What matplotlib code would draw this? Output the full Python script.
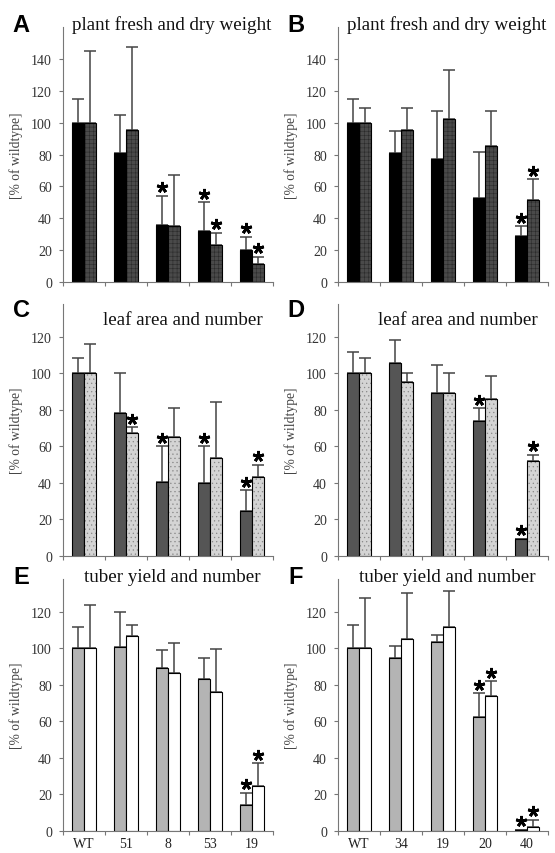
import numpy as np
import matplotlib
matplotlib.use('Agg')
import matplotlib.pyplot as plt

plt.rcParams['hatch.linewidth'] = 0.4

# Datos (% del wildtype)
grupos = np.arange(5)
etiquetas_E = ['WT', '51', '8', '53', '19']
etiquetas_F = ['WT', '34', '19', '20', '40']

# A: plant fresh and dry weight
A_1 = [100, 81, 35.5, 32, 20]
A_1_err = [115, 105, 54, 50, 28.5]
A_2 = [100, 95.5, 35, 23, 11.5]
A_2_err = [145, 147.5, 67, 31, 16]
A_1_sig = [0, 0, 1, 1, 1]
A_2_sig = [0, 0, 0, 1, 1]

# B: plant fresh and dry weight
B_1 = [100, 81, 77, 52.5, 29]
B_1_err = [115, 95, 107.5, 81.5, 35]
B_2 = [100, 95.5, 102, 85.5, 51.5]
B_2_err = [109, 109, 133, 107, 64.5]
B_1_sig = [0, 0, 0, 0, 1]
B_2_sig = [0, 0, 0, 0, 1]

# C: leaf area and number
C_1 = [100, 78.5, 40.5, 40, 24.5]
C_1_err = [108.5, 100.5, 60, 60, 36]
C_2 = [100, 67.5, 65, 53.5, 43]
C_2_err = [116, 70.5, 81, 84.5, 50]
C_1_sig = [0, 0, 1, 1, 1]
C_2_sig = [0, 1, 0, 0, 1]

# D: leaf area and number
D_1 = [100, 105.5, 89.5, 74, 9.5]
D_1_err = [112, 118.5, 104.5, 81, 9.5]
D_2 = [100, 95.5, 89.5, 86, 52]
D_2_err = [108.5, 100.5, 100, 98.5, 55.5]
D_1_sig = [0, 0, 0, 1, 1]
D_2_sig = [0, 0, 0, 0, 1]

# E: tuber yield and number
E_1 = [100, 101, 89, 83, 14]
E_1_err = [112, 120, 99, 95, 21]
E_2 = [100, 107, 86.5, 76, 24.5]
E_2_err = [124, 113, 103, 99.5, 37]
E_1_sig = [0, 0, 0, 0, 1]
E_2_sig = [0, 0, 0, 0, 1]

# F: tuber yield and number
F_1 = [100, 95, 103.5, 62.5, 0.5]
F_1_err = [113, 101.5, 107.5, 75.5, 0.5]
F_2 = [100, 105, 112, 74, 2]
F_2_err = [127.5, 130.5, 131.5, 82, 6]
F_1_sig = [0, 0, 0, 1, 1]
F_2_sig = [0, 0, 0, 1, 1]

ancho = 0.29
serif = 'Liberation Serif'

fig = plt.figure(figsize=(5.55, 8.54), dpi=100)

# posiciones de los paneles [izq, abajo, ancho, alto]
pos = {
    'A': [0.1135, 0.6686, 0.378, 0.2986],
    'B': [0.609, 0.6686, 0.378, 0.2986],
    'C': [0.1135, 0.3478, 0.378, 0.295],
    'D': [0.609, 0.3478, 0.378, 0.295],
    'E': [0.1135, 0.0258, 0.378, 0.295],
    'F': [0.609, 0.0258, 0.378, 0.295],
}

paneles = [
    ('A', A_1, A_1_err, A_2, A_2_err, A_1_sig, A_2_sig, 'plant fresh and dry weight',
     'black', '#4a4a4a', '#2a2a2a', '++++', 160, [0, 20, 40, 60, 80, 100, 120, 140], None, (0.52, 1.01)),
    ('B', B_1, B_1_err, B_2, B_2_err, B_1_sig, B_2_sig, 'plant fresh and dry weight',
     'black', '#4a4a4a', '#2a2a2a', '++++', 160, [0, 20, 40, 60, 80, 100, 120, 140], None, (0.52, 1.01)),
    ('C', C_1, C_1_err, C_2, C_2_err, C_1_sig, C_2_sig, 'leaf area and number',
     '#555555', '#d4d4d4', '#888888', '....', 138, [0, 20, 40, 60, 80, 100, 120], None, (0.57, 0.94)),
    ('D', D_1, D_1_err, D_2, D_2_err, D_1_sig, D_2_sig, 'leaf area and number',
     '#555555', '#d4d4d4', '#888888', '....', 138, [0, 20, 40, 60, 80, 100, 120], None, (0.57, 0.94)),
    ('E', E_1, E_1_err, E_2, E_2_err, E_1_sig, E_2_sig, 'tuber yield and number',
     '#b4b4b4', 'white', 'white', '', 138, [0, 20, 40, 60, 80, 100, 120], etiquetas_E, (0.52, 1.01)),
    ('F', F_1, F_1_err, F_2, F_2_err, F_1_sig, F_2_sig, 'tuber yield and number',
     '#b4b4b4', 'white', 'white', '', 138, [0, 20, 40, 60, 80, 100, 120], etiquetas_F, (0.52, 1.01)),
]

for (letra, v1, e1, v2, e2, s1, s2, titulo, c1, c2, chatch, hatch, ymax, yticks,
     xlabels, tpos) in paneles:
    ax = fig.add_axes(pos[letra])
    x1 = grupos - ancho / 2
    x2 = grupos + ancho / 2
    v1 = np.array(v1); v2 = np.array(v2)
    e1 = np.array(e1); e2 = np.array(e2)

    # barras
    ax.bar(x1, v1, ancho, color=c1, edgecolor='black', linewidth=0.8, zorder=2)
    if hatch:
        ax.bar(x2, v2, ancho, color=c2, edgecolor=chatch, hatch=hatch, linewidth=0, zorder=2)
        ax.bar(x2, v2, ancho, fill=False, edgecolor='black', linewidth=0.8, zorder=2)
    else:
        ax.bar(x2, v2, ancho, color=c2, edgecolor='black', linewidth=0.8, zorder=2)

    # barras de error (solo hacia arriba)
    ax.errorbar(x1, v1, yerr=[np.zeros(5), e1 - v1], fmt='none', ecolor='#444444',
                elinewidth=1.1, capsize=4, capthick=1.1, zorder=1)
    ax.errorbar(x2, v2, yerr=[np.zeros(5), e2 - v2], fmt='none', ecolor='#444444',
                elinewidth=1.1, capsize=4, capthick=1.1, zorder=1)

    # asteriscos de significancia
    desp = ymax * 0.034
    for xs, es, ss in [(x1, e1, s1), (x2, e2, s2)]:
        for xi, ei, si in zip(xs, es, ss):
            if si:
                ax.plot(xi, ei + desp, marker=(5, 2, 0), markersize=8, markeredgewidth=2.0,
                        color='black', zorder=3, clip_on=False)

    ax.set_xlim(-0.5, 4.5)
    ax.set_ylim(0, ymax)
    ax.set_yticks(yticks)
    ax.set_yticklabels([str(t) for t in yticks], family=serif, fontsize=10, color='#333333')
    ax.set_xticks(np.arange(-0.5, 5, 1))
    ax.set_xticklabels([])
    ax.tick_params(axis='both', direction='out', length=3, width=0.8, color='#777777')
    ax.tick_params(axis='y', pad=5)
    if xlabels:
        ax.set_xticks(grupos, minor=True)
        ax.set_xticklabels(xlabels, minor=True, family=serif, fontsize=10, color='#222222')
        ax.tick_params(axis='x', which='minor', length=0, pad=4)

    for lado in ['top', 'right']:
        ax.spines[lado].set_visible(False)
    for lado in ['left', 'bottom']:
        ax.spines[lado].set_color('#777777')
        ax.spines[lado].set_linewidth(0.8)

    ax.set_ylabel('[% of wildtype]', family=serif, fontsize=9.8, color='#444444')
    ax.yaxis.set_label_coords(-0.19, 0.5)
    ax.text(tpos[0], tpos[1], titulo, transform=ax.transAxes, ha='center', va='center',
            family=serif, fontsize=13.7, color='#111111')
    ax.text(-0.2, tpos[1] if letra in 'ABEF' else 0.98, letra, transform=ax.transAxes,
            ha='center', va='center', family='Liberation Sans', fontweight='bold',
            fontsize=17, color='black')

fig.savefig('out.png', dpi=100)
